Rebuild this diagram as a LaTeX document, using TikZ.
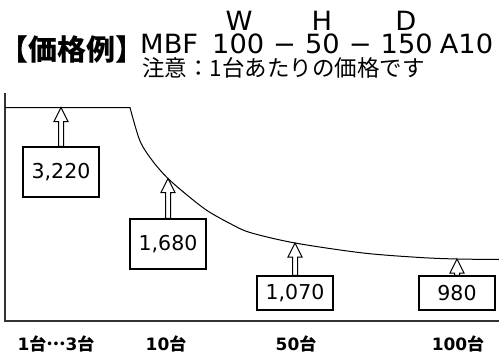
\documentclass[tikz,border=0pt]{standalone}
\usepackage{fontspec}
\setmainfont{DejaVu Sans}
\newfontfamily\jp{Noto Sans CJK JP}
\newfontfamily\wide{DejaVu Sans}[FakeStretch=1.03]
\usetikzlibrary{calc}

\newcommand\dai{{\jp 台}}
\tikzset{
  axis/.style={line width=1.4pt, draw=black!80},
  curve/.style={line width=1pt},
  pricebox/.style={draw, line width=1.2pt, minimum width=76pt, inner sep=0pt, font=\fontsize{20.5}{20.5}\selectfont},
  hollow/.style={draw, fill=white, line width=1pt, line join=miter},
  qty/.style={inner sep=0pt, font=\bfseries\fontsize{17}{17}\selectfont},
  head/.style={inner sep=0pt, font=\wide\fontsize{26.5}{26.5}\selectfont},
}
\newcommand\pricearrow[2]{%
  \draw[hollow] let \p1=(#1), \p2=(#2.north) in
    (\x1,\y1) -- (\x1+7pt,\y1-14pt) -- (\x1+2.5pt,\y1-14pt) -- (\x1+2.5pt,\y2)
    -- (\x1-2.5pt,\y2) -- (\x1-2.5pt,\y1-14pt) -- (\x1-7pt,\y1-14pt) -- cycle;}

\begin{document}
\begin{tikzpicture}[x=1pt,y=-1pt]
\useasboundingbox (0,0) rectangle (499,356);

\node[inner sep=0pt, anchor=west, font=\jp\bfseries\fontsize{29}{29}\selectfont] (title) at (-1,49) {【価格例】};
\node[head] (lblW) at (239,21) {W};
\node[head] (lblH) at (322,21) {H};
\node[head] (lblD) at (406,21) {D};
\node[head, anchor=west] (model) at (140,44) {MBF\hspace{14pt}100\hspace{9pt}−\hspace{9pt}50\hspace{9pt}−\hspace{9pt}150\hspace{7pt}A10};
\node[inner sep=0pt, anchor=west, font=\jp\fontsize{22.5}{22.5}\selectfont] (note) at (142,68) {注意：1台あたりの価格です};

\coordinate (top) at (5,93);
\coordinate (origin) at (5,321);
\coordinate (right) at (499,321);
\draw[axis] (top) -- (origin) -- (right);

\coordinate (knee) at (130,107.5);
\coordinate (tip3220) at (61,107.5);
\coordinate (tip1680) at (168,178.5);
\coordinate (tip1070) at (295,243);
\coordinate (tip980) at (457,259);
\draw[curve] (5,107.5) -- (knee) -- plot[smooth] coordinates {(130,107.5) (140,141) (153,161.5) (168,178.5) (187,195) (207,210.5) (230,223.5) (250,232.5) (295,243) (363,253) (420,257.5) (457,259) (499,259.5)};

\node[pricebox, minimum height=50pt] (p3220) at (tip3220 |- 0,172) {3,220};
\node[pricebox, minimum height=50pt] (p1680) at (tip1680 |- 0,244) {1,680};
\node[pricebox, minimum height=34pt] (p1070) at (tip1070 |- 0,293) {1,070};
\node[pricebox, minimum height=34pt] (p980) at (tip980 |- 0,293) {980};

\pricearrow{tip3220}{p3220}
\pricearrow{tip1680}{p1680}
\pricearrow{tip1070}{p1070}
\pricearrow{tip980}{p980}

\node[qty] (q1) at (56,343.5) {1\dai\raisebox{0.28em}{\jp …}3\dai};
\node[qty] (q10) at (166,343.5) {10\dai};
\node[qty] (q50) at (296,343.5) {50\dai};
\node[qty] (q100) at (458,343.5) {100\dai};
\end{tikzpicture}
\end{document}
